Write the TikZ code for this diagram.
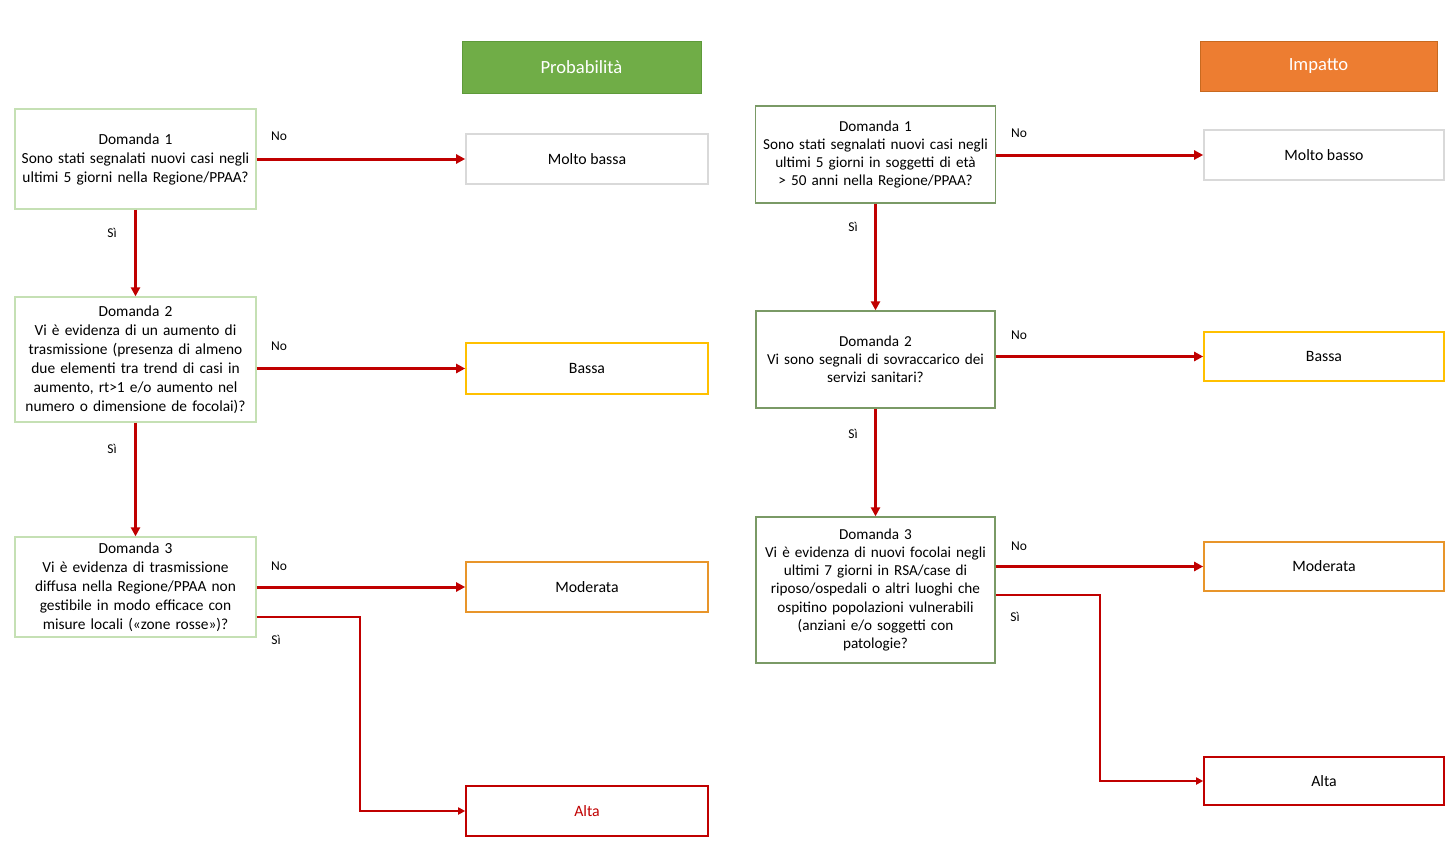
\documentclass[tikz,border=0pt]{standalone}
\usepackage{fontspec}
\setmainfont{Carlito}
\usetikzlibrary{arrows.meta}
\definecolor{qgreenL}{HTML}{C5E0B4}
\definecolor{qgreenR}{HTML}{7A9A66}
\definecolor{hgreen}{HTML}{70AD47}
\definecolor{hgreenB}{HTML}{5E9A3A}
\definecolor{horange}{HTML}{ED7D31}
\definecolor{horangeB}{HTML}{C8691F}
\definecolor{lgray}{HTML}{D9D9D9}
\definecolor{yel}{HTML}{FFC000}
\definecolor{mod}{HTML}{E8952A}
\definecolor{darkred}{HTML}{C00000}
\tikzset{
  qbox/.style={draw, line width=1.3pt, align=center, inner sep=2pt, font=\fontsize{15.4}{19}\selectfont},
  qboxr/.style={qbox, font=\fontsize{15.2}{18.2}\selectfont},
  obox/.style={draw, line width=1.6pt, minimum height=50pt, font=\fontsize{15.8}{18}\selectfont},
  hbox/.style={line width=1pt, text=white, font=\fontsize{18.6}{21}\selectfont},
  lbl/.style={font=\fontsize{13.5}{15}\selectfont, inner sep=0pt},
  arr/.style={draw=darkred, line width=3pt, -{Triangle[length=9pt,width=9pt]}},
  arrthin/.style={draw=darkred, line width=2pt, -{Triangle[length=7pt,width=7pt]}},
}
\begin{document}
\begin{tikzpicture}[x=1pt,y=-1pt]
\useasboundingbox (0,0) rectangle (1456,849);
% headers
\node[hbox, fill=hgreen, draw=hgreenB, minimum width=239pt, minimum height=52pt] (hp) at (581.5,67) {Probabilità};
\node[hbox, fill=horange, draw=horangeB, minimum width=237pt, minimum height=50pt] (hi) at (1318.5,66) {Impatto};
% left questions
\node[qbox, draw=qgreenL, minimum width=241pt, minimum height=100pt, text width=237pt] (q1l) at (135.5,159) {Domanda 1\\Sono stati segnalati nuovi casi negli\\ultimi 5 giorni nella Regione/PPAA?};
\node[qbox, draw=qgreenL, minimum width=241pt, minimum height=125pt, text width=237pt] (q2l) at (135.5,359.5) {Domanda 2\\Vi è evidenza di un aumento di\\trasmissione (presenza di almeno\\due elementi tra trend di casi in\\aumento, rt>1 e/o aumento nel\\numero o dimensione de focolai)?};
\node[qbox, draw=qgreenL, minimum width=241pt, minimum height=100pt, text width=237pt] (q3l) at (135.5,587) {Domanda 3\\Vi è evidenza di trasmissione\\diffusa nella Regione/PPAA non\\gestibile in modo efficace con\\misure locali («zone rosse»)?};
% left outcomes
\node[obox, draw=lgray, minimum width=242pt] (o1l) at (587,159) {Molto bassa};
\node[obox, draw=yel, minimum width=242pt, minimum height=51pt] (o2l) at (587,368.5) {Bassa};
\node[obox, draw=mod, minimum width=242pt] (o3l) at (587,587) {Moderata};
\node[obox, draw=darkred, text=darkred, minimum width=242pt] (o4l) at (587,811) {Alta};
% right questions
\node[qboxr, draw=qgreenR, minimum width=240pt, minimum height=97pt, text width=236pt] (q1r) at (875.5,154.5) {Domanda 1\\Sono stati segnalati nuovi casi negli\\ultimi 5 giorni in soggetti di età\\> 50 anni nella Regione/PPAA?};
\node[qboxr, draw=qgreenR, minimum width=239pt, minimum height=97pt, text width=235pt] (q2r) at (875.5,359.5) {Domanda 2\\Vi sono segnali di sovraccarico dei\\servizi sanitari?};
\node[qboxr, draw=qgreenR, minimum width=239pt, minimum height=146pt, text width=235pt] (q3r) at (875.5,590) {Domanda 3\\Vi è evidenza di nuovi focolai negli\\ultimi 7 giorni in RSA/case di\\riposo/ospedali o altri luoghi che\\ospitino popolazioni vulnerabili\\(anziani e/o soggetti con\\patologie?};
% right outcomes
\node[obox, draw=lgray, minimum width=240pt] (o1r) at (1324,155) {Molto basso};
\node[obox, draw=yel, minimum width=240pt, minimum height=49pt] (o2r) at (1324,356.5) {Bassa};
\node[obox, draw=mod, minimum width=240pt, minimum height=49pt] (o3r) at (1324,566.5) {Moderata};
\node[obox, draw=darkred, minimum width=240pt, minimum height=48pt] (o4r) at (1324,781) {Alta};
% helper coordinates
\coordinate (s3l) at (256,617);
\coordinate (b3l) at (360,700);
\coordinate (s3r) at (995,595);
\coordinate (b3r) at (1100,700);
% left connectors
\draw[arr] (q1l.east |- o1l.west) -- (o1l.west);
\draw[arr] (q2l.east |- o2l.west) -- (o2l.west);
\draw[arr] (q3l.east |- o3l.west) -- (o3l.west);
\draw[arr] (q1l.south) -- (q2l.north);
\draw[arr] (q2l.south) -- (q3l.north);
\draw[arrthin] (q3l.east |- s3l) -| (b3l) |- (o4l.west);
% right connectors
\draw[arr] (q1r.east |- o1r.west) -- (o1r.west);
\draw[arr] (q2r.east |- o2r.west) -- (o2r.west);
\draw[arr] (q3r.east |- o3r.west) -- (o3r.west);
\draw[arr] (q1r.south) -- (q2r.north);
\draw[arr] (q2r.south) -- (q3r.north);
\draw[arrthin] (q3r.east |- s3r) -| (b3r) |- (o4r.west);
% labels
\node[lbl] (n1l) at (279,136) {No};
\node[lbl] (n2l) at (279,346) {No};
\node[lbl] (n3l) at (279,566) {No};
\node[lbl] (y1l) at (112,233) {Sì};
\node[lbl] (y2l) at (112,449) {Sì};
\node[lbl] (y3l) at (276,640) {Sì};
\node[lbl] (n1r) at (1019,133) {No};
\node[lbl] (n2r) at (1019,335) {No};
\node[lbl] (n3r) at (1019,546) {No};
\node[lbl] (y1r) at (853,227) {Sì};
\node[lbl] (y2r) at (853,434) {Sì};
\node[lbl] (y3r) at (1015,617) {Sì};
\end{tikzpicture}
\end{document}
